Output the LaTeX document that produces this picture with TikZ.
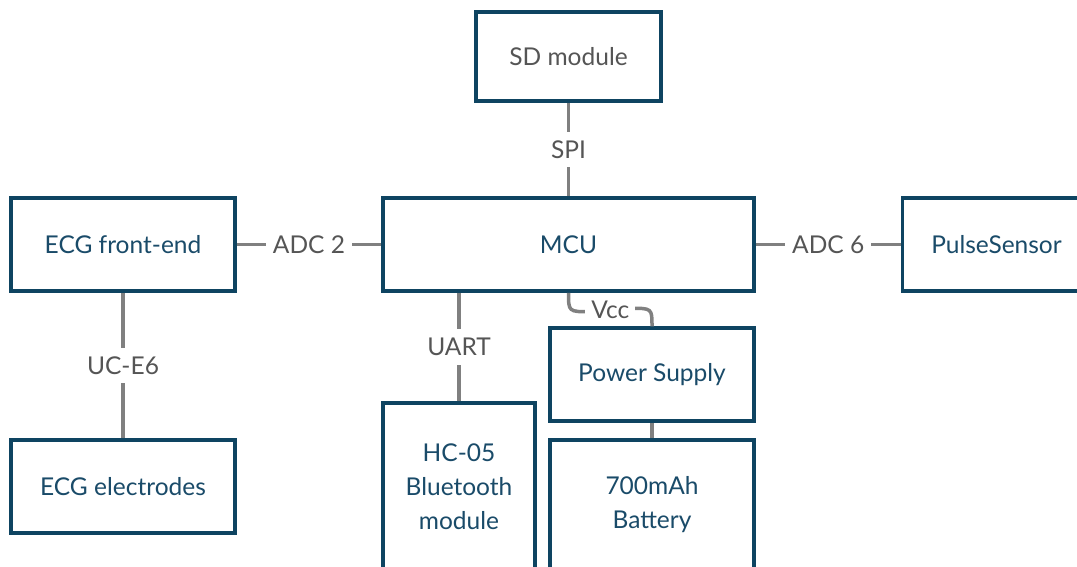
\documentclass[tikz,border=0pt]{standalone}
\usepackage{fontspec}
\setmainfont{Lato}
\usetikzlibrary{calc}
\definecolor{bordc}{HTML}{0E4461}
\definecolor{txtb}{HTML}{1A4B69}
\definecolor{txtg}{HTML}{555555}
\definecolor{connc}{HTML}{808080}
\begin{document}
\begin{tikzpicture}[x=1pt,y=-1pt,
  box/.style={draw=bordc,line width=3.5pt,fill=white,text=txtb,align=center,
    inner sep=0pt,font=\fontsize{24.5}{34}\selectfont},
  conn/.style={draw=connc,line width=3.5pt},
  lbl/.style={fill=white,text=txtg,inner xsep=7pt,inner ysep=9pt,
    font=\fontsize{24.5}{34}\selectfont}]
\useasboundingbox (0,0) rectangle (1077,566);
\clip (0,0) rectangle (1077,566);
\node[box,minimum width=185pt,minimum height=89pt,text=txtg] (sd) at (568.5,56.5) {SD module};
\node[box,minimum width=371pt,minimum height=93pt] (mcu) at (568.5,244.5) {MCU};
\node[box,minimum width=224pt,minimum height=93pt] (fe) at (123,244.5) {ECG front-end};
\node[box,minimum width=188pt,minimum height=93pt] (pulse) at (996.5,244.5) {PulseSensor};
\node[box,minimum width=224pt,minimum height=93pt] (el) at (123,486.5) {ECG electrodes};
\node[box,minimum width=152pt,minimum height=168pt] (hc) at (459,487) {HC-05\\Bluetooth\\module};
\node[box,minimum width=204pt,minimum height=93pt] (ps) at (652,374.5) {Power Supply};
\node[box,minimum width=204pt,minimum height=130pt] (bat) at (652,505) {700mAh\\Battery};

\draw[conn] (sd.south) -- node[lbl] {SPI} (mcu.north);
\draw[conn] (fe.east) -- node[lbl] {ADC 2} (mcu.west);
\draw[conn] (mcu.east) -- node[lbl] {ADC 6} (pulse.west);
\draw[conn] (fe.south) -- node[lbl] {UC-E6} (el.north);
\draw[conn] (mcu.south -| hc.north) -- node[lbl] {UART} (hc.north);
\draw[conn] (ps.south) -- (bat.north);
\coordinate (vccs) at (mcu.south -| sd.south);
\coordinate (vccl) at ([xshift=22pt,yshift=-19pt]vccs);
\coordinate (vccr) at ([xshift=-22pt,yshift=18pt]ps.north);
\draw[conn] (vccs) .. controls ([yshift=-19pt]vccs) .. (vccl) -- (vccr)
  .. controls ([yshift=18pt]ps.north) .. (ps.north);
\node[lbl,inner xsep=6pt,inner ysep=1pt] (vcc) at ($(vccl)!0.5!(vccr)$) {Vcc};
\end{tikzpicture}
\end{document}
